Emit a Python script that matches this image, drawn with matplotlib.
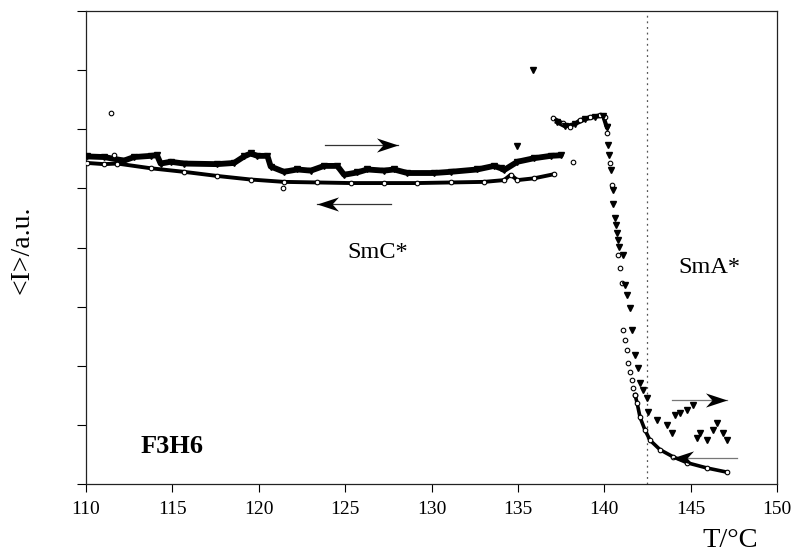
import matplotlib
matplotlib.use('Agg')
import matplotlib.pyplot as plt
from matplotlib.path import Path

SERIF = ['Liberation Serif', 'DejaVu Serif']

# ---- heating run (filled down-triangles) ----
heat_T = [110.08, 111.04, 112.20, 112.78, 113.75, 114.11, 114.32, 114.90, 115.67, 117.58,
          118.57, 119.15, 119.53, 119.92, 120.50, 120.69, 121.46, 122.23, 123.01, 123.78,
          124.55, 124.94, 125.71, 126.28, 127.25, 127.83, 128.60, 130.14, 131.11, 132.65,
          133.62, 134.01, 134.20, 134.97, 135.93, 136.90, 137.48]
heat_I = [5.54, 5.53, 5.47, 5.53, 5.55, 5.56, 5.42, 5.45, 5.42, 5.41,
          5.43, 5.54, 5.59, 5.55, 5.55, 5.37, 5.28, 5.32, 5.30, 5.38,
          5.38, 5.23, 5.27, 5.32, 5.30, 5.32, 5.26, 5.26, 5.28, 5.32,
          5.38, 5.34, 5.31, 5.45, 5.51, 5.55, 5.56]
heat_top_T = [137.26, 137.73, 138.31, 138.89, 139.46, 139.93, 140.14]
heat_top_I = [6.12, 6.05, 6.09, 6.17, 6.21, 6.23, 6.04]
heat_drop_T = [140.16, 140.22, 140.28, 140.39, 140.51, 140.51, 140.62, 140.68, 140.74, 140.80,
               140.85, 141.09, 141.20, 141.32, 141.49, 141.61, 141.78, 141.95, 142.07, 142.24,
               142.47, 142.52, 143.05, 143.63, 143.92, 144.10, 144.39, 144.80, 145.14, 145.37,
               145.54, 145.95, 146.30, 146.53, 146.87, 147.11]
heat_drop_I = [6.04, 5.73, 5.56, 5.31, 4.97, 4.74, 4.50, 4.38, 4.25, 4.13,
               4.01, 3.87, 3.37, 3.20, 2.98, 2.60, 2.18, 1.96, 1.71, 1.59,
               1.45, 1.22, 1.08, 1.00, 0.86, 1.17, 1.20, 1.25, 1.34, 0.78,
               0.86, 0.74, 0.91, 1.03, 0.86, 0.74]
heat_out_T = [134.97, 135.88]
heat_out_I = [5.72, 7.00]

# ---- cooling run (open circles) ----
cool_T = [110.08, 111.04, 111.81, 113.75, 115.67, 117.60, 119.53, 121.46, 123.39, 125.32,
          127.25, 129.18, 131.11, 133.04, 134.20, 134.58, 134.97, 135.93, 137.09]
cool_I = [5.43, 5.41, 5.42, 5.34, 5.28, 5.21, 5.15, 5.11, 5.10, 5.09,
          5.09, 5.09, 5.10, 5.11, 5.14, 5.23, 5.14, 5.17, 5.24]
cool_top_T = [137.05, 137.63, 138.02, 138.60, 139.18, 139.75, 140.04]
cool_top_I = [6.19, 6.10, 6.04, 6.16, 6.21, 6.24, 6.21]
cool_drop_T = [140.16, 140.33, 140.45, 140.80, 140.91, 141.03, 141.09, 141.20, 141.32, 141.37,
               141.49, 141.61, 141.66, 141.78]
cool_drop_I = [5.94, 5.43, 5.06, 3.87, 3.65, 3.40, 2.60, 2.44, 2.27, 2.05,
               1.89, 1.76, 1.62, 1.51]
cool_tail_T = [141.78, 141.90, 142.07, 142.36, 142.65, 143.23, 143.98, 144.79, 145.95, 147.11]
cool_tail_I = [1.51, 1.37, 1.13, 0.91, 0.74, 0.58, 0.46, 0.36, 0.27, 0.20]
cool_out_T = [111.45, 111.62, 121.42, 138.21]
cool_out_I = [6.27, 5.56, 5.01, 5.45]

# ---- annotations ----
phase_boundary_T = 142.5
arrow_tail_T = [123.83, 127.66, 143.92, 147.69]
arrow_head_T = [128.06, 123.37, 147.11, 143.92]
arrow_I = [5.73, 4.74, 1.42, 0.44]
arrow_line_color = ['#333333', '#333333', '#777777', '#777777']
x_ticks = [110, 115, 120, 125, 130, 135, 140, 145, 150]
y_ticks = [0, 1, 2, 3, 4, 5, 6, 7, 8]

fig = plt.figure(figsize=(7.92, 5.56), dpi=100)
ax = fig.add_axes([0.1086, 0.1295, 0.8725, 0.8507])
ax.set_xlim(110, 150)
ax.set_ylim(0, 8)

tri = dict(marker='v', color='black', markersize=3.7, linestyle='none')
circ = dict(marker='o', markerfacecolor='white', markeredgecolor='black',
            markersize=3.3, markeredgewidth=0.8, linestyle='none')

# dense measured curves drawn as thick traces with markers
ax.plot(heat_T, heat_I, color='black', lw=4.2, solid_capstyle='round', zorder=3)
ax.plot(heat_T, heat_I, **tri, zorder=4)
ax.plot(cool_T, cool_I, color='black', lw=2.8, solid_capstyle='round', zorder=3)
ax.plot(cool_T, cool_I, **circ, zorder=4)
ax.plot(cool_top_T, cool_top_I, color='black', lw=2.5, zorder=3)
ax.plot(cool_top_T, cool_top_I, **circ, zorder=4)
ax.plot(heat_top_T, heat_top_I, color='black', lw=3, zorder=3)
ax.plot(heat_top_T, heat_top_I, **tri, zorder=5)
ax.plot(cool_tail_T, cool_tail_I, color='black', lw=2.6, zorder=3)
ax.plot(cool_tail_T, cool_tail_I, **circ, zorder=4)
ax.plot(cool_drop_T, cool_drop_I, **circ, zorder=4)
ax.plot(cool_out_T, cool_out_I, **circ, zorder=4)
ax.plot(heat_drop_T, heat_drop_I, **tri, zorder=5)
ax.plot(heat_out_T, heat_out_I, **tri, zorder=5)

ax.axvline(phase_boundary_T, color='#555555', lw=0.9, linestyle=(0, (1.5, 3)), zorder=1)

# arrows: thin shaft plus a swept-back (concave) arrowhead marker
head_right = Path([(0, 0), (-1, 0.33), (-0.7, 0), (-1, -0.33), (0, 0)],
                  [Path.MOVETO, Path.LINETO, Path.LINETO, Path.LINETO, Path.CLOSEPOLY])
head_left = Path([(0, 0), (1, 0.33), (0.7, 0), (1, -0.33), (0, 0)],
                 [Path.MOVETO, Path.LINETO, Path.LINETO, Path.LINETO, Path.CLOSEPOLY])
for t0, t1, yy, lc in zip(arrow_tail_T, arrow_head_T, arrow_I, arrow_line_color):
    ax.plot([t0, t1], [yy, yy], color=lc, lw=0.9, zorder=6)
    ax.plot([t1], [yy], marker=head_right if t1 > t0 else head_left,
            markersize=31, color='black', markeredgewidth=0, linestyle='none', zorder=7)

ax.text(126.9, 3.92, 'SmC*', family=SERIF, fontsize=17.5, ha='center', va='center')
ax.text(146.1, 3.67, 'SmA*', family=SERIF, fontsize=17.5, ha='center', va='center')
ax.text(115.0, 0.64, 'F3H6', family=SERIF, fontsize=19, fontweight='bold',
        ha='center', va='center')

ax.set_xticks(x_ticks)
ax.set_xticklabels([str(v) for v in x_ticks], family=SERIF, fontsize=14)
ax.set_yticks(y_ticks)
ax.set_yticklabels([])
ax.tick_params(axis='x', direction='out', length=5.5, width=0.8, pad=7)
ax.tick_params(axis='y', direction='out', length=6.5, width=0.8)
for s in ax.spines.values():
    s.set_linewidth(0.9)
    s.set_color('#222222')

fig.text(730 / 792, 1 - 547 / 556, 'T/°C', family=SERIF, fontsize=20.5,
         ha='center', va='baseline')
fig.text(22 / 792, 1 - 250 / 556, '<I>/a.u.', family=SERIF, fontsize=20,
         rotation=90, ha='center', va='center')

fig.savefig('out.png', dpi=100)
